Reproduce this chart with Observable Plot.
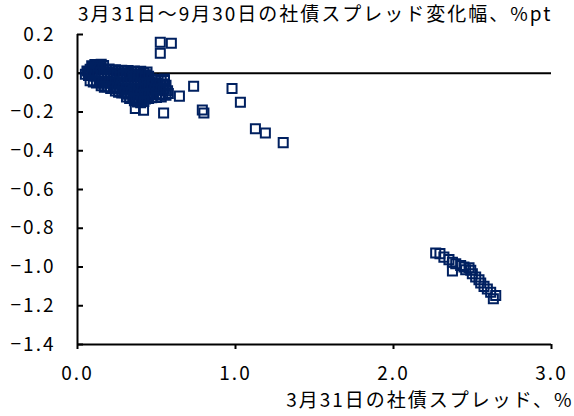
<!DOCTYPE html>
<html><head><meta charset="utf-8">
<script src="https://cdn.jsdelivr.net/npm/d3@7"></script>
<script src="https://cdn.jsdelivr.net/npm/@observablehq/plot@0.6"></script>
<style>
body{margin:0;background:#fff;}
#chart{width:574px;height:416px;font-family:'Noto Sans CJK JP',sans-serif;color:#000;}
.title{height:22px;line-height:26px;padding-left:78px;font-size:19px;letter-spacing:2px;white-space:nowrap;}
</style></head><body>
<div id="chart"><div class="title" id="title"></div></div>
<script>
const chartTitle = "3月31日～9月30日の社債スプレッド変化幅、%pt";
const xTitle = "3月31日の社債スプレッド、%";
const xTicks = [0, 1, 2, 3];
const yTicks = [0.2, 0, -0.2, -0.4, -0.6, -0.8, -1.0, -1.2, -1.4];

// [spread on Mar 31 (%), change to Sep 30 (%pt)]
const lowSpreadBonds = [
  [0.09,0.038],[0.11,0.045],[0.13,0.042],[0.15,0.046],[0.165,0.040],[0.12,0.030],[0.10,0.034],[0.14,0.036],
  [0.06,0.012],[0.08,0.020],[0.10,0.025],[0.12,0.022],[0.14,0.026],[0.16,0.020],[0.18,0.018],[0.20,0.022],[0.22,0.015],[0.24,0.018],
  [0.26,0.012],[0.28,0.016],[0.30,0.010],[0.32,0.014],[0.34,0.008],[0.36,0.012],[0.38,0.006],[0.40,0.010],[0.42,0.004],[0.44,0.006],
  [0.07,0.004],[0.11,0.008],[0.15,0.006],[0.19,0.004],[0.23,0.002],[0.27,0.000],[0.31,-0.002],[0.35,-0.004],[0.39,-0.006],[0.43,-0.008],
  [0.05,-0.005],[0.07,-0.012],[0.09,-0.008],[0.11,-0.015],[0.13,-0.010],[0.15,-0.018],[0.17,-0.012],[0.19,-0.016],[0.21,-0.010],
  [0.23,-0.018],[0.25,-0.014],[0.27,-0.020],[0.29,-0.012],[0.31,-0.018],[0.33,-0.015],[0.35,-0.020],[0.37,-0.013],[0.39,-0.019],
  [0.41,-0.016],[0.43,-0.022],[0.45,-0.015],[0.47,-0.030],[0.49,-0.036],[0.51,-0.033],[0.53,-0.040],[0.55,-0.038],
  [0.08,-0.038],[0.10,-0.045],[0.12,-0.050],[0.14,-0.043],[0.16,-0.052],[0.18,-0.046],[0.20,-0.050],[0.22,-0.044],[0.24,-0.052],
  [0.26,-0.047],[0.28,-0.055],[0.30,-0.048],[0.32,-0.053],[0.34,-0.046],[0.36,-0.054],[0.38,-0.049],[0.40,-0.056],[0.42,-0.050],
  [0.44,-0.054],[0.46,-0.048],[0.48,-0.058],[0.50,-0.052],[0.52,-0.060],[0.54,-0.055],[0.56,-0.062],
  [0.15,-0.065],[0.17,-0.072],[0.19,-0.070],[0.21,-0.078],[0.23,-0.074],[0.25,-0.080],[0.27,-0.076],[0.29,-0.082],[0.31,-0.075],
  [0.33,-0.083],[0.35,-0.078],[0.37,-0.084],[0.39,-0.077],[0.41,-0.085],[0.43,-0.079],[0.45,-0.083],[0.47,-0.080],[0.49,-0.086],
  [0.51,-0.081],[0.53,-0.087],[0.55,-0.082],[0.57,-0.090],
  [0.24,-0.092],[0.26,-0.098],[0.28,-0.102],[0.30,-0.100],[0.32,-0.108],[0.34,-0.104],[0.36,-0.110],[0.38,-0.106],[0.40,-0.112],
  [0.42,-0.107],[0.44,-0.111],[0.46,-0.105],[0.48,-0.110],[0.50,-0.106],[0.52,-0.112],[0.54,-0.108],[0.56,-0.113],[0.575,-0.104],
  [0.31,-0.122],[0.33,-0.130],[0.35,-0.127],[0.37,-0.135],[0.39,-0.131],[0.41,-0.138],[0.43,-0.133],[0.45,-0.130],[0.47,-0.126],
  [0.50,-0.125],[0.53,-0.122],
  [0.36,-0.142],[0.38,-0.148],[0.40,-0.152],[0.42,-0.146]
];
const midSpreadBonds = [
  [0.524,0.160],[0.594,0.155],[0.524,0.103],[0.550,-0.030],[0.645,-0.118],[0.735,-0.067],
  [0.978,-0.079],[1.031,-0.150],[0.790,-0.190],[0.800,-0.205],[1.126,-0.286],[1.189,-0.308],
  [1.302,-0.358],[0.366,-0.182],[0.418,-0.191],[0.545,-0.205]
];
const highSpreadBonds = [
  [2.267,-0.928],[2.294,-0.931],[2.319,-0.949],[2.351,-0.962],[2.373,-0.975],[2.394,-0.983],[2.373,-1.021],
  [2.425,-0.992],[2.446,-1.000],[2.478,-1.004],[2.457,-1.014],[2.489,-1.017],[2.499,-1.035],[2.520,-1.052],
  [2.541,-1.066],[2.552,-1.083],[2.573,-1.100],[2.594,-1.114],[2.615,-1.130],[2.632,-1.164],[2.647,-1.147]
];

document.getElementById("title").textContent = chartTitle;
const bonds = [...lowSpreadBonds, ...midSpreadBonds, ...highSpreadBonds];
const fmt = d3.format(".1f");

const plot = Plot.plot({
  width: 574, height: 394,
  marginTop: 12, marginLeft: 77, marginRight: 23, marginBottom: 72,
  style: {fontFamily: "'Noto Sans CJK JP', sans-serif", fontSize: "19px", letterSpacing: "2px", color: "#000", background: "#fff", overflow: "visible"},
  x: {domain: [0, 3]},
  y: {domain: [-1.4, 0.2]},
  marks: [
    Plot.axisX(xTicks, {tickSize: 5, tickPadding: 17, tickFormat: fmt, label: null, strokeWidth: 2}),
    Plot.axisY(yTicks, {tickSize: 0, tickPadding: 22, tickFormat: fmt, label: null}),
    Plot.ruleY(yTicks, {insetRight: 468, strokeWidth: 2, stroke: "#000"}),
    Plot.ruleY([0], {strokeWidth: 2, stroke: "#000"}),
    Plot.ruleX([0], {strokeWidth: 2, stroke: "#000"}),
    Plot.ruleY([-1.4], {strokeWidth: 2, stroke: "#000"}),
    Plot.dot(bonds, {x: d => d[0], y: d => d[1], symbol: "square", r: 5.1, stroke: "#002060", strokeWidth: 2, fill: "none"}),
    Plot.text([xTitle], {text: d => d, frameAnchor: "bottom-right", dx: 22, dy: 62, textAnchor: "end", fill: "#000"})
  ]
});
document.getElementById("chart").appendChild(plot);
</script>
</body></html>
